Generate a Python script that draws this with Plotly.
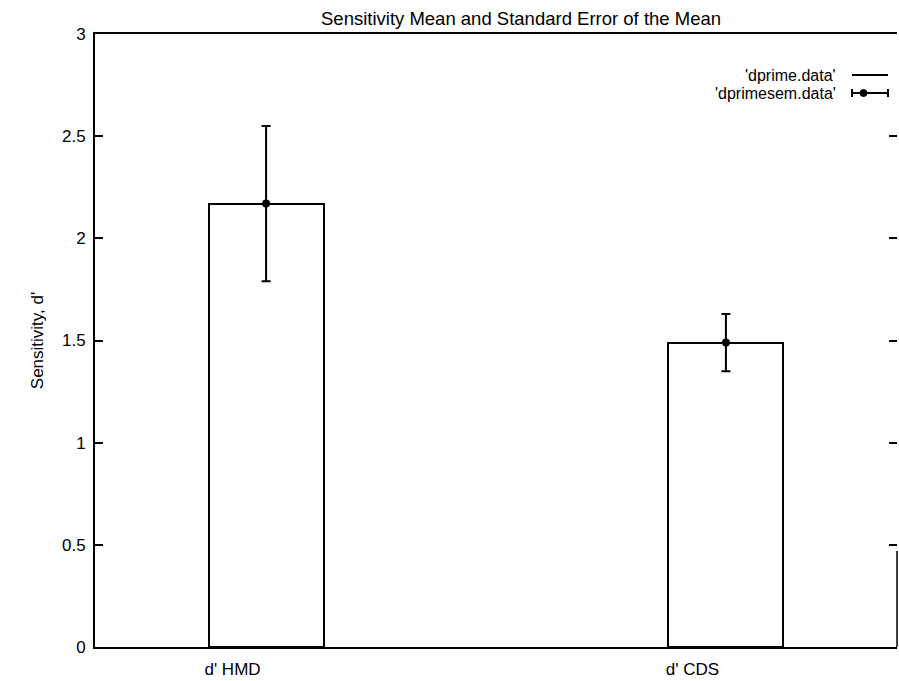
import plotly.graph_objects as go

# Sensitivity (d') per condition, with standard error of the mean
categories = ["d' HMD", "d' CDS"]
dprime_mean = [2.17, 1.49]
dprime_sem = [0.38, 0.14]

y_ticks = [0, 0.5, 1, 1.5, 2, 2.5, 3]
y_tick_labels = ["0", "0.5", "1", "1.5", "2", "2.5", "3"]

FONT = "Liberation Sans, Arial, sans-serif"
positions = list(range(len(categories)))

fig = go.Figure()

# boxes from dprime.data
fig.add_trace(go.Bar(
    x=positions,
    y=dprime_mean,
    width=0.25,
    marker=dict(color="rgba(255,255,255,0)", line=dict(color="black", width=2)),
    showlegend=False,
    hoverinfo="skip",
))

# mean points with error bars from dprimesem.data
fig.add_trace(go.Scatter(
    x=positions,
    y=dprime_mean,
    mode="markers",
    marker=dict(color="black", size=8),
    error_y=dict(type="data", array=dprime_sem, visible=True,
                 color="black", thickness=2, width=4.5),
    showlegend=False,
    hoverinfo="skip",
))

# invisible trace to carry the right-hand tick marks
fig.add_trace(go.Scatter(x=[positions[0]], y=[0], yaxis="y2", mode="markers",
                         marker=dict(opacity=0), showlegend=False, hoverinfo="skip"))

fig.update_layout(
    width=899, height=681,
    margin=dict(l=95, r=2, t=34, b=34),
    paper_bgcolor="white", plot_bgcolor="white",
    font=dict(family=FONT, size=18, color="black"),
    xaxis=dict(
        range=[-0.372, 1.372],
        tickvals=[p - 0.073 for p in positions],
        ticktext=categories,
        ticks="", showgrid=False, zeroline=False,
        showline=True, linecolor="black", linewidth=2, mirror=True,
        ticklabelstandoff=6,
        tickfont=dict(size=17),
    ),
    yaxis=dict(
        range=[0, 3],
        tickvals=y_ticks, ticktext=y_tick_labels,
        ticks="inside", ticklen=8, tickwidth=2, tickcolor="black",
        showgrid=False, zeroline=False,
        showline=True, linecolor="black", linewidth=2,
        ticklabelstandoff=4,
        tickfont=dict(size=17),
        title=dict(text="Sensitivity, d'", font=dict(size=17), standoff=14),
    ),
    yaxis2=dict(
        range=[0, 3], overlaying="y", side="right",
        tickvals=y_ticks[1:-1], showticklabels=False,
        ticks="inside", ticklen=8, tickwidth=2, tickcolor="black",
        showgrid=False, zeroline=False, showline=False,
    ),
    bargap=0,
    showlegend=False,
)

# right frame edge (only the lower part is drawn)
fig.add_shape(type="line", xref="paper", yref="y", x0=1, x1=1, y0=0, y1=0.47,
              line=dict(color="black", width=1.5))

# title
fig.add_annotation(text="Sensitivity Mean and Standard Error of the Mean",
                   xref="paper", yref="paper", x=(521 - 95) / 802, y=1,
                   yshift=16, showarrow=False, font=dict(size=18.5),
                   xanchor="center", yanchor="middle")

# key in the top-right corner
def px_x(px):
    return (px - 95) / 802

def px_y(py):
    return (647 - py) / 613

key_rows = [("'dprime.data'", 75), ("'dprimesem.data'", 93)]
for label, ky in key_rows:
    fig.add_annotation(text=label, xref="paper", yref="paper",
                       x=px_x(838), y=px_y(ky), showarrow=False,
                       xanchor="right", yanchor="middle", font=dict(size=16))

fig.add_shape(type="line", xref="paper", yref="paper",
              x0=px_x(852), x1=px_x(888), y0=px_y(75), y1=px_y(75),
              line=dict(color="black", width=2))
fig.add_shape(type="line", xref="paper", yref="paper",
              x0=px_x(852), x1=px_x(888), y0=px_y(93), y1=px_y(93),
              line=dict(color="black", width=2))
for cx in (852, 888):
    fig.add_shape(type="line", xref="paper", yref="paper",
                  x0=px_x(cx), x1=px_x(cx), y0=px_y(89), y1=px_y(97),
                  line=dict(color="black", width=2))
fig.add_shape(type="circle", xref="paper", yref="paper",
              x0=px_x(860), x1=px_x(867), y0=px_y(89.5), y1=px_y(96.5),
              fillcolor="black", line=dict(color="black", width=1))

fig.write_html("out.html")
